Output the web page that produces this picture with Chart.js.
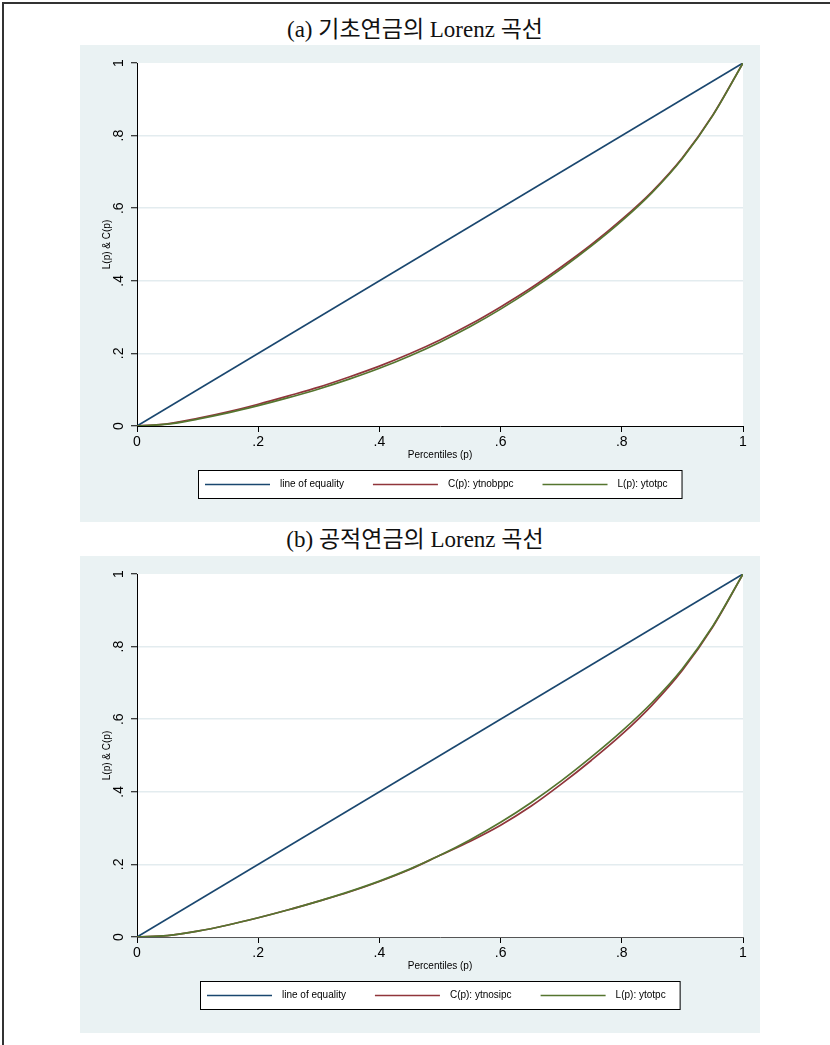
<!DOCTYPE html>
<html>
<head>
<meta charset="utf-8">
<script src="https://cdn.jsdelivr.net/npm/chart.js@4"></script>
<style>
  body { margin: 0; background: #fff; }
  #page { position: relative; width: 830px; height: 1045px; overflow: hidden; }
  .frame { position: absolute; left: 2px; top: 2px; width: 900px; height: 1100px;
           border-left: 2px solid #333; border-top: 2px solid #333; }
  .ttl { position: absolute; left: 0; width: 830px; text-align: center; line-height: 24px;
         font-family: "Liberation Serif", "Noto Sans CJK KR", serif; font-size: 23px; color: #111; }
  canvas { position: absolute; left: 80px; background: #EAF2F3; }
</style>
</head>
<body>
<div id="page">
  <div class="frame"></div>
  <div class="ttl" style="top:18px">(a) 기초연금의 Lorenz 곡선</div>
  <canvas id="lorenzA" width="680" height="477" style="top:45px"></canvas>
  <div class="ttl" style="top:528px">(b) 공적연금의 Lorenz 곡선</div>
  <canvas id="lorenzB" width="680" height="477" style="top:556px"></canvas>
</div>
<script>
// percentiles used for the concentration / Lorenz curves
var pct = [0, .05, .1, .15, .2, .25, .3, .35, .4, .45, .5, .55, .6, .65, .7, .75, .8, .85, .9, .95, 1];

// (a) basic pension
var concA = [0, .006, .021, .039, .060, .083, .107, .135, .165, .199, .237, .280, .328, .380, .438, .500, .569, .646, .739, .856, 1];
var lorenzA = [0, .005, .019, .036, .056, .078, .102, .129, .159, .193, .231, .274, .322, .375, .433, .496, .565, .643, .737, .855, 1];

// (b) public pension
var concB = [0, .004, .016, .033, .053, .075, .099, .124, .153, .186, .225, .264, .308, .360, .421, .487, .558, .639, .735, .854, 1];
var lorenzB = [0, .004, .016, .033, .053, .075, .099, .125, .154, .187, .225, .268, .316, .370, .430, .496, .567, .646, .739, .856, 1];

var equalityP = [0, 1];
var equalityV = [0, 1];
var axisTicks = [0, .2, .4, .6, .8, 1];

var tickFont = { family: '"Liberation Sans", Arial, sans-serif', size: 14 };
var smallFont = { family: '"Liberation Sans", Arial, sans-serif', size: 10 };

function pts(xs, ys) {
  return xs.map(function (x, i) { return { x: x, y: ys[i] }; });
}

function fmt(v) {
  if (v === 0) return '0';
  if (v === 1) return '1';
  return v.toFixed(1).replace('0.', '.');
}

// white plot region + Stata style legend box under the x axis
var stataLook = {
  id: 'stataLook',
  beforeDraw: function (chart) {
    var a = chart.chartArea, c = chart.ctx;
    c.save();
    c.fillStyle = '#fff';
    c.fillRect(a.left, a.top, a.right - a.left, a.bottom - a.top);
    c.restore();
  },
  afterDraw: function (chart) {
    var c = chart.ctx, a = chart.chartArea, sets = chart.data.datasets;
    var lineLen = 65, gap = 10, between = 29, padL = 7, padR = 14, boxH = 28;
    c.save();
    c.font = '10px "Liberation Sans", Arial, sans-serif';
    var widths = sets.map(function (d) { return c.measureText(d.label).width; });
    var total = padL + padR + between * (sets.length - 1);
    widths.forEach(function (w) { total += lineLen + gap + w; });
    var boxL = Math.round((a.left + a.right) / 2 - total / 2);
    var boxT = Math.round(a.bottom + 44);
    c.fillStyle = '#fff';
    c.fillRect(boxL, boxT, total, boxH);
    c.strokeStyle = '#000';
    c.lineWidth = 1;
    c.strokeRect(boxL + .5, boxT + .5, total, boxH);
    var x = boxL + padL, y = boxT + boxH / 2 + .5;
    sets.forEach(function (d, i) {
      c.strokeStyle = d.borderColor;
      c.lineWidth = 1.6;
      c.beginPath();
      c.moveTo(x, y);
      c.lineTo(x + lineLen, y);
      c.stroke();
      c.fillStyle = '#000';
      c.textBaseline = 'middle';
      c.fillText(d.label, x + lineLen + gap, y);
      x += lineLen + gap + widths[i] + between;
    });
    c.restore();
  }
};

function makeChart(id, concLabel, conc, lor, xLineColor) {
  new Chart(document.getElementById(id), {
    type: 'line',
    data: {
      datasets: [
        { label: 'line of equality', data: pts(equalityP, equalityV), borderColor: '#1A476F', order: 3 },
        { label: concLabel, data: pts(pct, conc), borderColor: '#90353B', order: 2 },
        { label: 'L(p): ytotpc', data: pts(pct, lor), borderColor: '#55752F', order: 1 }
      ]
    },
    options: {
      responsive: false,
      animation: false,
      devicePixelRatio: 1,
      elements: {
        line: { borderWidth: 1.7, cubicInterpolationMode: 'monotone', fill: false },
        point: { radius: 0 }
      },
      layout: { padding: { left: 0, right: 17, top: 18, bottom: 60 } },
      plugins: { legend: { display: false }, tooltip: { enabled: false } },
      scales: {
        x: {
          type: 'linear', min: 0, max: 1,
          afterBuildTicks: function (s) { s.ticks = axisTicks.map(function (v) { return { value: v }; }); },
          afterFit: function (s) { s.height = 36; },
          grid: { drawOnChartArea: false, drawTicks: true, tickLength: 6, tickColor: '#000' },
          border: { color: xLineColor, width: 1 },
          ticks: { font: tickFont, color: '#000', padding: 2, maxRotation: 0, callback: fmt },
          title: { display: true, text: 'Percentiles (p)', font: smallFont, color: '#000', padding: { top: 0, bottom: 1 } }
        },
        y: {
          type: 'linear', min: 0, max: 1,
          afterBuildTicks: function (s) { s.ticks = axisTicks.map(function (v) { return { value: v }; }); },
          afterFit: function (s) { s.width = 57; },
          grid: {
            color: function (ctx) { return (ctx.tick && ctx.tick.value > 0 && ctx.tick.value < 1) ? '#E3ECEF' : 'rgba(0,0,0,0)'; },
            lineWidth: 1.5, tickLength: 6, tickColor: '#000', tickWidth: 1
          },
          border: { color: '#000', width: 1 },
          ticks: { font: tickFont, color: '#000', padding: 6, minRotation: 90, maxRotation: 90, crossAlign: 'center', callback: fmt },
          title: { display: true, text: 'L(p) & C(p)', font: smallFont, color: '#000', padding: { top: 21, bottom: 0 } }
        }
      }
    },
    plugins: [stataLook]
  });
}

makeChart('lorenzA', 'C(p): ytnobppc', concA, lorenzA, '#000');
makeChart('lorenzB', 'C(p): ytnosipc', concB, lorenzB, '#555');
</script>
</body>
</html>
